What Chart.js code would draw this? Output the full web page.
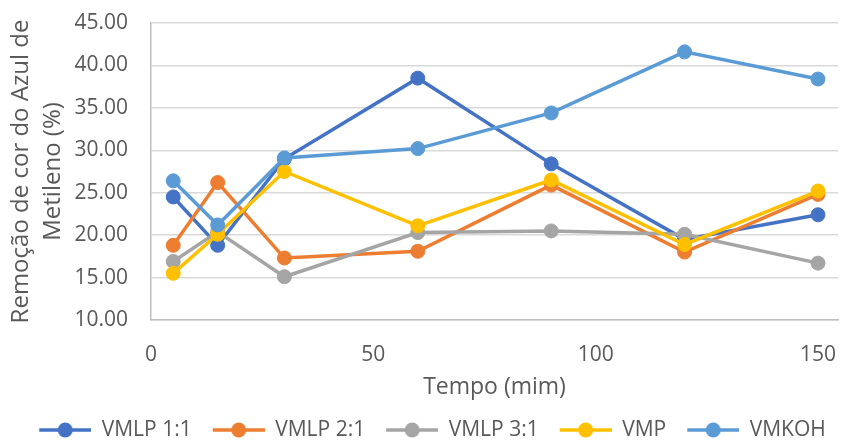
<!DOCTYPE html>
<html>
<head>
<meta charset="utf-8">
<script src="https://cdn.jsdelivr.net/npm/chart.js@4/dist/chart.umd.min.js"></script>
<style>
  html, body { margin: 0; padding: 0; background: #ffffff; }
  #wrap { width: 846px; height: 440px; position: relative; }
</style>
</head>
<body>
<div id="wrap"><canvas id="c"></canvas></div>
<script>
const times = [5, 15, 30, 60, 90, 120, 150];
const seriesNames = ['VMLP 1:1', 'VMLP 2:1', 'VMLP 3:1', 'VMP', 'VMKOH'];
const vmlp11 = [24.5, 18.8, 29.0, 38.5, 28.4, 19.5, 22.4];
const vmlp21 = [18.8, 26.2, 17.3, 18.1, 25.9, 18.0, 24.8];
const vmlp31 = [16.9, 20.4, 15.1, 20.3, 20.5, 20.1, 16.7];
const vmp    = [15.5, 20.1, 27.5, 21.1, 26.5, 18.9, 25.2];
const vmkoh  = [26.4, 21.2, 29.1, 30.2, 34.4, 41.6, 38.4];
const xTicks = [0, 50, 100, 150];
const yTicks = [10, 15, 20, 25, 30, 35, 40, 45];
const colors = ['#4472C4', '#ED7D31', '#A5A5A5', '#FFC000', '#5B9BD5'];
const xTitle = 'Tempo (mim)';
const yTitle = ['Remoção de cor do Azul de', 'Metileno (%)'];

const allSeries = [vmlp11, vmlp21, vmlp31, vmp, vmkoh];

function legendIcon(color) {
  const c = document.createElement('canvas');
  c.width = 71; c.height = 18;
  const g = c.getContext('2d');
  g.strokeStyle = color;
  g.lineWidth = 3.5;
  g.beginPath(); g.moveTo(19, 9); g.lineTo(71, 9); g.stroke();
  g.fillStyle = color;
  g.beginPath(); g.arc(45, 9, 7.5, 0, Math.PI * 2); g.fill();
  return c;
}
const icons = colors.map(legendIcon);

const datasets = seriesNames.map((name, i) => ({
  label: name,
  data: times.map((t, j) => ({ x: t, y: allSeries[i][j] })),
  borderColor: colors[i],
  backgroundColor: colors[i],
  pointBackgroundColor: colors[i],
  pointBorderColor: colors[i],
  pointBorderWidth: 1,
  pointRadius: 7,
  borderWidth: 3.5,
  tension: 0,
  order: seriesNames.length - i
}));

const textColor = '#595959';

new Chart(document.getElementById('c'), {
  type: 'line',
  data: { datasets },
  options: {
    responsive: true,
    maintainAspectRatio: false,
    animation: false,
    layout: { padding: { left: 0, right: 0, top: 23, bottom: -10.5 } },
    plugins: {
      tooltip: { enabled: false },
      legend: {
        position: 'bottom',
        labels: {
          usePointStyle: true,
          pointStyleWidth: 71,
          padding: 2,
          color: textColor,
          font: { family: 'Open Sans', size: 21 },
          generateLabels: (chart) => chart.data.datasets.map((ds, i) => ({
            text: ds.label,
            fillStyle: colors[i],
            strokeStyle: colors[i],
            lineWidth: 0,
            pointStyle: icons[i],
            fontColor: textColor,
            hidden: false,
            datasetIndex: i
          }))
        }
      }
    },
    scales: {
      x: {
        type: 'linear',
        min: 0,
        max: 154.5,
        afterBuildTicks: (axis) => { axis.ticks = xTicks.map(v => ({ value: v })); },
        afterFit: (axis) => { axis.height = 97.5; axis.paddingLeft = 0; axis.paddingRight = 0; },
        grid: { display: false, drawTicks: false },
        border: { display: true, color: '#BFBFBF', width: 1.5 },
        ticks: {
          padding: 22,
          color: textColor,
          font: { family: 'Open Sans', size: 21 },
          maxRotation: 0,
          callback: (v) => String(v)
        },
        title: {
          display: true,
          text: xTitle,
          color: textColor,
          font: { family: 'Open Sans', size: 23 },
          padding: { top: 0, bottom: 16 }
        }
      },
      y: {
        min: 10,
        max: 45,
        afterBuildTicks: (axis) => { axis.ticks = yTicks.map(v => ({ value: v })); },
        afterFit: (axis) => { axis.width = 151; axis.paddingTop = 0; axis.paddingBottom = 0; },
        grid: { color: '#D9D9D9', lineWidth: 1.5, drawTicks: false },
        border: { display: true, color: '#BFBFBF', width: 1.5 },
        ticks: {
          padding: 23,
          color: textColor,
          font: { family: 'Open Sans', size: 21 },
          callback: (v) => Number(v).toFixed(2)
        },
        title: {
          display: true,
          text: yTitle,
          color: textColor,
          font: { family: 'Open Sans', size: 24, lineHeight: 1.3 },
          padding: { top: 6, bottom: 0 }
        }
      }
    }
  }
});
</script>
</body>
</html>
